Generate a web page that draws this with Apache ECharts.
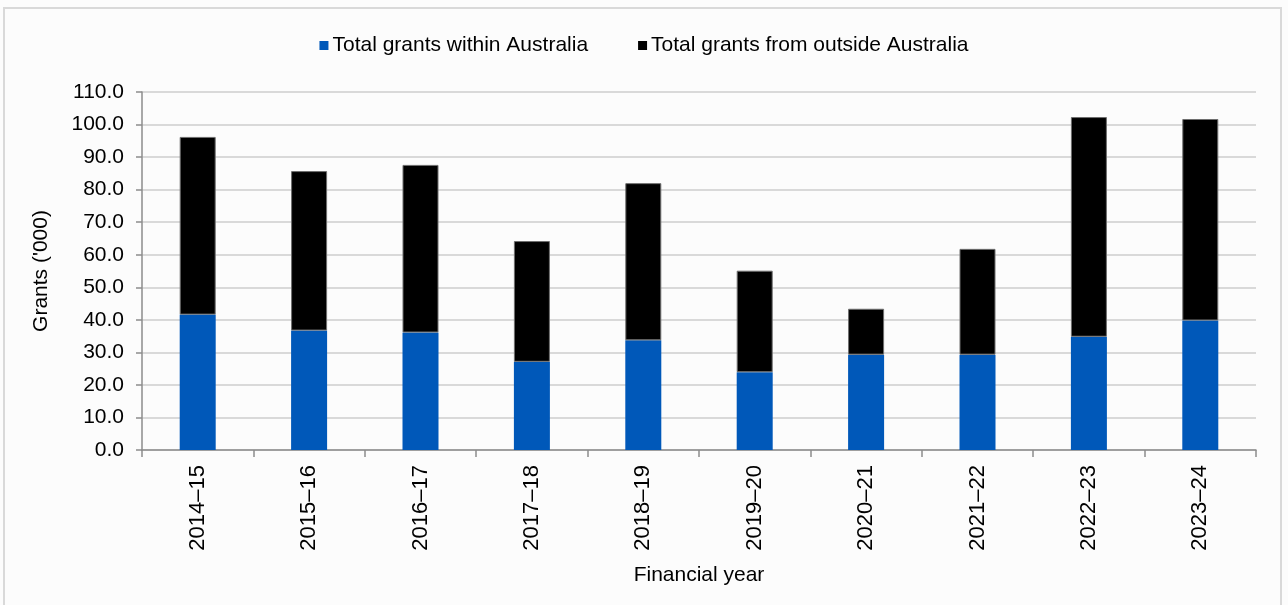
<!DOCTYPE html>
<html>
<head>
<meta charset="utf-8">
<script src="https://cdn.jsdelivr.net/npm/echarts@6/dist/echarts.min.js"></script>
<style>
  html, body { margin: 0; padding: 0; background: #fcfcfc; }
  #frame { position: absolute; left: 3px; top: 7px; width: 1279px; height: 620px; border: 2px solid #d9d9d9; box-sizing: border-box; }
  #chart { position: absolute; left: 0; top: 0; width: 1288px; height: 605px; }
</style>
</head>
<body>
<div id="frame"></div>
<div id="chart"></div>
<script>
const categories = ['2014–15','2015–16','2016–17','2017–18','2018–19','2019–20','2020–21','2021–22','2022–23','2023–24'];
const withinAustralia = [41.6, 36.7, 36.1, 27.1, 33.7, 23.9, 29.3, 29.3, 34.8, 39.8];
const outsideAustralia = [54.6, 49.0, 51.5, 37.1, 48.3, 31.2, 14.1, 32.5, 67.5, 61.9];
const seriesNames = ['Total grants within Australia', 'Total grants from outside Australia'];

const FONT = '"Liberation Sans", Arial, sans-serif';
const chart = echarts.init(document.getElementById('chart'), null, { renderer: 'canvas' });
chart.setOption({
  backgroundColor: 'transparent',
  animation: false,
  textStyle: { fontFamily: FONT, color: '#000' },
  legend: {
    top: 30,
    left: 'center',
    itemWidth: 9,
    itemHeight: 9,
    itemGap: 50,
    icon: 'rect',
    itemStyle: { borderWidth: 0 },
    textStyle: { fontFamily: FONT, fontSize: 21, color: '#000', padding: [0, 0, 0, -1] },
    data: seriesNames
  },
  grid: { left: 142, right: 32, top: 92, bottom: 155, containLabel: false },
  xAxis: {
    type: 'category',
    data: categories,
    name: 'Financial year',
    nameLocation: 'middle',
    nameGap: 115,
    nameTextStyle: { fontFamily: FONT, fontSize: 21, color: '#000' },
    axisLine: { lineStyle: { color: '#8c8c8c', width: 1.5 } },
    axisTick: { show: true, alignWithLabel: false, length: 7, lineStyle: { color: '#8c8c8c', width: 1.5 } },
    axisLabel: { rotate: 90, margin: 15, fontFamily: FONT, fontSize: 22, color: '#000' }
  },
  yAxis: {
    type: 'value',
    min: 0,
    max: 110,
    interval: 10,
    name: "Grants ('000)",
    nameLocation: 'middle',
    nameGap: 90,
    nameRotate: 90,
    nameTextStyle: { fontFamily: FONT, fontSize: 21, color: '#000' },
    axisLine: { show: true, lineStyle: { color: '#8c8c8c', width: 1.5 } },
    axisTick: { show: true, length: 6, lineStyle: { color: '#8c8c8c', width: 1.5 } },
    axisLabel: { margin: 18, fontFamily: FONT, fontSize: 21, color: '#000', formatter: v => v.toFixed(1) },
    splitLine: { show: true, lineStyle: { color: '#d9d9d9', width: 2 } }
  },
  series: [
    {
      name: seriesNames[0],
      type: 'bar',
      stack: 'total',
      barWidth: 36,
      itemStyle: { color: '#0058b9' },
      data: withinAustralia
    },
    {
      name: seriesNames[1],
      type: 'bar',
      stack: 'total',
      barWidth: 36,
      itemStyle: { color: '#000000', borderColor: '#6e6e6e', borderWidth: 1 },
      data: outsideAustralia
    }
  ]
});
</script>
</body>
</html>
